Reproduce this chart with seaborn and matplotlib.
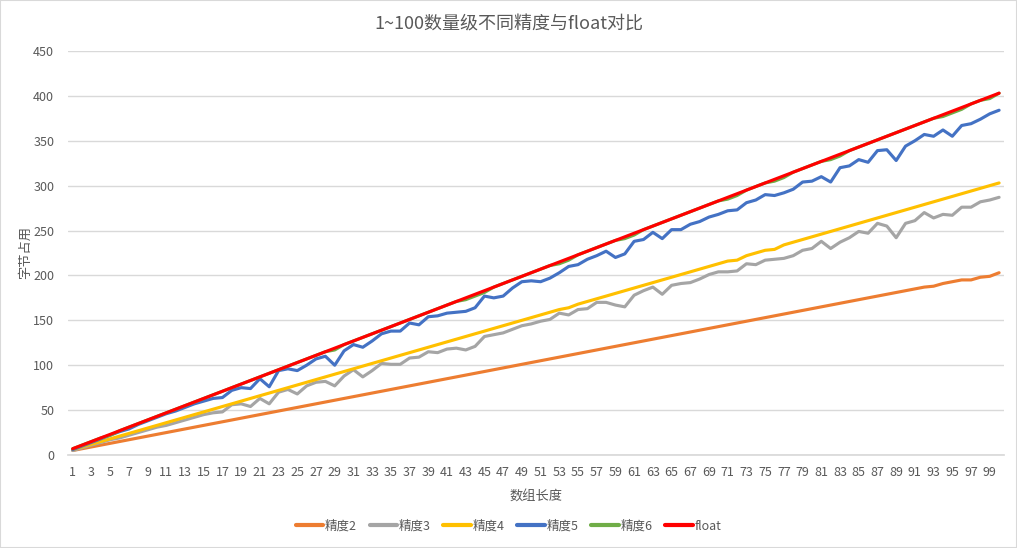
import matplotlib
matplotlib.use("Agg")
import matplotlib.pyplot as plt
import seaborn as sns
import pandas as pd
from matplotlib.lines import Line2D
from matplotlib.patches import Rectangle

lengths = list(range(1, 101))

p2 = [5, 7, 9, 11, 13, 15, 17, 19, 21, 23, 25, 27, 29, 31, 33, 35, 37, 39, 41, 43,
      45, 47, 49, 51, 53, 55, 57, 59, 61, 63, 65, 67, 69, 71, 73, 75, 77, 79, 81, 83,
      85, 87, 89, 91, 93, 95, 97, 99, 101, 103, 105, 107, 109, 111, 113, 115, 117, 119, 121, 123,
      125, 127, 129, 131, 133, 135, 137, 139, 141, 143, 145, 147, 149, 151, 153, 155, 157, 159, 161, 163,
      165, 167, 169, 171, 173, 175, 177, 179, 181, 183, 185, 187, 188, 191, 193, 195, 195, 198, 199, 203]
p3 = [5, 8, 11, 14, 17, 19, 22, 25, 28, 31, 33, 36, 39, 42, 45, 47, 48, 56, 57, 54,
      63, 57, 70, 73, 68, 77, 81, 82, 77, 88, 95, 87, 94, 102, 101, 101, 108, 109, 115, 114,
      118, 119, 117, 121, 132, 134, 136, 140, 144, 146, 149, 151, 158, 156, 162, 163, 170, 170, 167, 165,
      178, 183, 187, 179, 189, 191, 192, 196, 201, 204, 204, 205, 213, 212, 217, 218, 219, 222, 228, 230,
      238, 230, 237, 242, 249, 247, 258, 255, 242, 258, 261, 270, 264, 268, 267, 276, 276, 282, 284, 287]
p4 = [6, 9, 12, 15, 18, 21, 24, 27, 30, 33, 36, 39, 42, 45, 48, 51, 54, 57, 60, 63,
      66, 69, 72, 75, 78, 81, 84, 87, 90, 93, 96, 99, 102, 105, 108, 111, 114, 117, 120, 123,
      126, 129, 132, 135, 138, 141, 144, 147, 150, 153, 156, 159, 162, 164, 168, 171, 174, 177, 180, 183,
      186, 189, 192, 195, 198, 201, 204, 207, 210, 213, 216, 217, 222, 225, 228, 229, 234, 237, 240, 243,
      246, 249, 252, 255, 258, 261, 264, 267, 270, 273, 276, 279, 282, 285, 288, 291, 294, 297, 300, 303]
p5 = [6, 10, 14, 18, 22, 26, 29, 34, 38, 42, 46, 49, 53, 57, 60, 63, 64, 72, 75, 74,
      85, 76, 94, 96, 94, 100, 107, 110, 100, 116, 123, 120, 127, 135, 138, 138, 147, 145, 154, 155,
      158, 159, 160, 164, 177, 175, 177, 186, 193, 194, 193, 197, 203, 210, 212, 218, 222, 227, 220, 224,
      238, 240, 248, 241, 251, 251, 257, 260, 265, 268, 272, 273, 281, 284, 290, 289, 292, 296, 304, 305,
      310, 304, 320, 322, 329, 326, 339, 340, 328, 344, 350, 357, 355, 362, 355, 367, 369, 374, 380, 384]
p6 = [7, 11, 15, 19, 22, 27, 31, 35, 39, 43, 47, 51, 55, 59, 63, 67, 71, 75, 79, 83,
      87, 91, 95, 99, 103, 107, 111, 115, 117, 123, 127, 131, 135, 139, 143, 147, 151, 155, 159, 163,
      167, 171, 173, 177, 181, 187, 191, 195, 199, 203, 207, 211, 213, 217, 223, 227, 231, 235, 239, 241,
      245, 251, 255, 259, 263, 267, 271, 275, 279, 283, 285, 289, 295, 299, 303, 305, 309, 315, 319, 323,
      327, 329, 333, 339, 343, 347, 351, 355, 359, 363, 367, 371, 375, 377, 381, 385, 391, 395, 397, 403]
pf = [7, 11, 15, 19, 23, 27, 31, 35, 39, 43, 47, 51, 55, 59, 63, 67, 71, 75, 79, 83,
      87, 91, 95, 99, 103, 107, 111, 115, 119, 123, 127, 131, 135, 139, 143, 147, 151, 155, 159, 163,
      167, 171, 175, 179, 183, 187, 191, 195, 199, 203, 207, 211, 215, 219, 223, 227, 231, 235, 239, 243,
      247, 251, 255, 259, 263, 267, 271, 275, 279, 283, 287, 291, 295, 299, 303, 307, 311, 315, 319, 323,
      327, 331, 335, 339, 343, 347, 351, 355, 359, 363, 367, 371, 375, 379, 383, 387, 391, 395, 399, 403]

names = ["精度2", "精度3", "精度4", "精度5", "精度6", "float"]
colors = ["#ED7D31", "#A5A5A5", "#FFC000", "#4472C4", "#70AD47", "#FF0000"]

frames = []
for name, vals in zip(names, [p2, p3, p4, p5, p6, pf]):
    frames.append(pd.DataFrame({"n": lengths, "bytes": vals, "series": name}))
df = pd.concat(frames, ignore_index=True)

sns.set_theme(style="white")
plt.rcParams["font.family"] = ["Noto Sans CJK SC", "DejaVu Sans"]

fig = plt.figure(figsize=(10.17, 5.48), dpi=100)
ax = fig.add_axes([0.0669, 0.1697, 0.9201, 0.7373])

sns.lineplot(data=df, x="n", y="bytes", hue="series", hue_order=names,
             palette=colors, linewidth=2.25, ax=ax, legend=False)

text_c = "#595959"
ax.set_xlim(0.5, 100.5)
ax.set_ylim(0, 450)
ax.set_yticks(range(0, 451, 50))
ax.set_xticks(range(1, 101, 2))
ax.tick_params(axis="both", length=0, labelsize=9, labelcolor=text_c)
ax.tick_params(axis="x", pad=8)
ax.tick_params(axis="y", pad=10)
ax.grid(axis="y", color="#D9D9D9", linewidth=1)
ax.set_axisbelow(True)
for s in ["top", "right", "left"]:
    ax.spines[s].set_visible(False)
ax.spines["bottom"].set_color("#D9D9D9")

ax.set_xlabel("数组长度", fontsize=9.5, color=text_c, labelpad=8)
ax.set_ylabel("字节占用", fontsize=9.5, color=text_c, labelpad=1)
fig.suptitle("1~100数量级不同精度与float对比", fontsize=13, color=text_c, y=0.972)

handles = [Line2D([0], [0], color=c, lw=3) for c in colors]
fig.legend(handles, names, loc="center", bbox_to_anchor=(0.5, 0.04), ncol=6,
           frameon=False, fontsize=9, handlelength=2.2, handletextpad=0.15,
           columnspacing=1.0, labelcolor=text_c)

fig.patches.append(Rectangle((0, 0), 1, 1, transform=fig.transFigure, fill=False,
                             edgecolor="#D9D9D9", linewidth=1.5))

fig.savefig("out.png", dpi=100)
